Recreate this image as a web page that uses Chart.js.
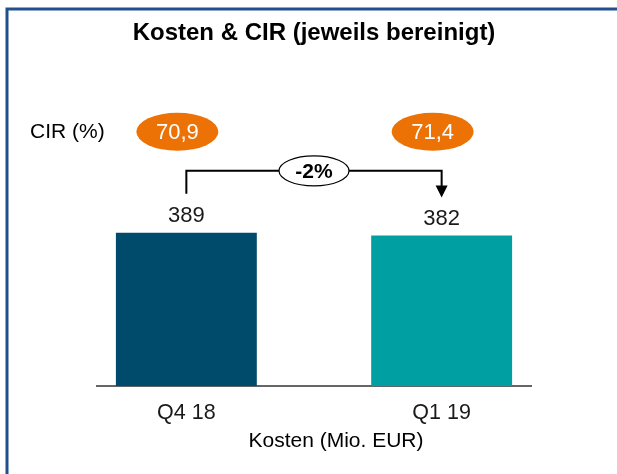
<!DOCTYPE html>
<html>
<head>
<meta charset="utf-8">
<script src="https://cdn.jsdelivr.net/npm/chart.js@4"></script>
<style>
  html, body { margin: 0; padding: 0; background: #fff; }
  #wrap { width: 617px; height: 474px; }
</style>
</head>
<body>
<div id="wrap"><canvas id="myChart" width="617" height="474"></canvas></div>
<script>
// data
const categories = ['Q4 18', 'Q1 19'];
const kosten = [389, 382];
const cirValues = [70.9, 71.4];
const changeLabel = '-2%';
const axisTitle = 'Kosten (Mio. EUR)';

const barColors = ['#004a6b', '#00a0a2'];
const fontFamily = '"Liberation Sans", Arial, sans-serif';

// frame, CIR bubbles, value labels, change bracket and axis title
const annotations = {
  id: 'annotations',
  beforeDraw(chart) {
    const ctx = chart.ctx;
    ctx.save();
    ctx.fillStyle = '#fff';
    ctx.fillRect(0, 0, chart.width, chart.height);
    ctx.strokeStyle = '#22508e';
    ctx.lineWidth = 3;
    ctx.beginPath();
    ctx.moveTo(7, chart.height);
    ctx.lineTo(7, 9);
    ctx.lineTo(chart.width, 9);
    ctx.stroke();
    ctx.restore();
  },
  afterDatasetsDraw(chart) {
    const ctx = chart.ctx;
    const bars = chart.getDatasetMeta(0).data;
    const area = chart.chartArea;
    ctx.save();
    ctx.textBaseline = 'middle';

    // CIR row
    const cirY = area.top + 57;
    ctx.fillStyle = '#000';
    ctx.textAlign = 'left';
    ctx.font = '21px ' + fontFamily;
    ctx.fillText('CIR (%)', 30, cirY);
    bars.forEach((bar, i) => {
      const cx = bar.x - 9;
      ctx.fillStyle = '#ec7205';
      ctx.beginPath();
      ctx.ellipse(cx, cirY, 41, 19, 0, 0, Math.PI * 2);
      ctx.fill();
      ctx.fillStyle = '#fff';
      ctx.textAlign = 'center';
      ctx.font = '22px ' + fontFamily;
      ctx.fillText(cirValues[i].toFixed(1).replace('.', ','), cx, cirY + 1);
    });

    // value labels
    ctx.fillStyle = '#1a1a1a';
    ctx.font = '22px ' + fontFamily;
    bars.forEach((bar, i) => {
      ctx.fillText(String(kosten[i]), bar.x, bar.y - 17);
    });

    // change bracket
    const yH = Math.min(bars[0].y, bars[1].y) - 62;
    const tipY = bars[1].y - 38;
    ctx.strokeStyle = '#000';
    ctx.lineWidth = 2;
    ctx.beginPath();
    ctx.moveTo(bars[0].x, bars[0].y - 39);
    ctx.lineTo(bars[0].x, yH);
    ctx.lineTo(bars[1].x, yH);
    ctx.lineTo(bars[1].x, tipY - 10);
    ctx.stroke();
    ctx.fillStyle = '#000';
    ctx.beginPath();
    ctx.moveTo(bars[1].x - 6, tipY - 12);
    ctx.lineTo(bars[1].x + 6, tipY - 12);
    ctx.lineTo(bars[1].x, tipY);
    ctx.closePath();
    ctx.fill();

    const mx = (bars[0].x + bars[1].x) / 2;
    ctx.fillStyle = '#fff';
    ctx.lineWidth = 1.2;
    ctx.beginPath();
    ctx.ellipse(mx, yH, 35, 15, 0, 0, Math.PI * 2);
    ctx.fill();
    ctx.stroke();
    ctx.fillStyle = '#000';
    ctx.font = 'bold 21px ' + fontFamily;
    ctx.fillText(changeLabel, mx, yH + 1);

    // axis title, sits a bit right of the axis centre
    ctx.fillStyle = '#000';
    ctx.font = '21px ' + fontFamily;
    ctx.fillText(axisTitle, mx + 22, area.bottom + 55);
    ctx.restore();
  }
};

const ctx = document.getElementById('myChart').getContext('2d');
const myChart = new Chart(ctx, {
  type: 'bar',
  data: {
    datasets: [
      {
        label: 'Kosten',
        data: kosten.map((v, i) => ({ x: i, y: v })),
        backgroundColor: barColors,
        borderWidth: 0,
        categoryPercentage: 1,
        barPercentage: 0.552,
      },
    ],
  },
  options: {
    responsive: false,
    animation: false,
    layout: {
      padding: { left: 97, right: 86, top: 0, bottom: 34 },
    },
    plugins: {
      legend: { display: false },
      tooltip: { enabled: false },
      title: {
        display: true,
        text: 'Kosten & CIR (jeweils bereinigt)',
        color: '#000',
        font: { family: fontFamily, size: 24, weight: 'bold' },
        padding: { top: 19, bottom: 27 },
      },
    },
    scales: {
      x: {
        type: 'linear',
        min: -0.35,
        max: 1.35,
        offset: false,
        grid: { display: false, drawTicks: false, offset: false },
        border: { display: true, color: '#666', width: 2 },
        afterBuildTicks: (axis) => {
          axis.ticks = categories.map((c, i) => ({ value: i }));
        },
        ticks: {
          padding: 14,
          color: '#1a1a1a',
          font: { family: fontFamily, size: 21.5 },
          callback: (v) => categories[v],
        },
      },
      y: {
        display: false,
        min: 0,
        max: 790,
      },
    },
  },
  plugins: [annotations],
});
</script>
</body>
</html>
